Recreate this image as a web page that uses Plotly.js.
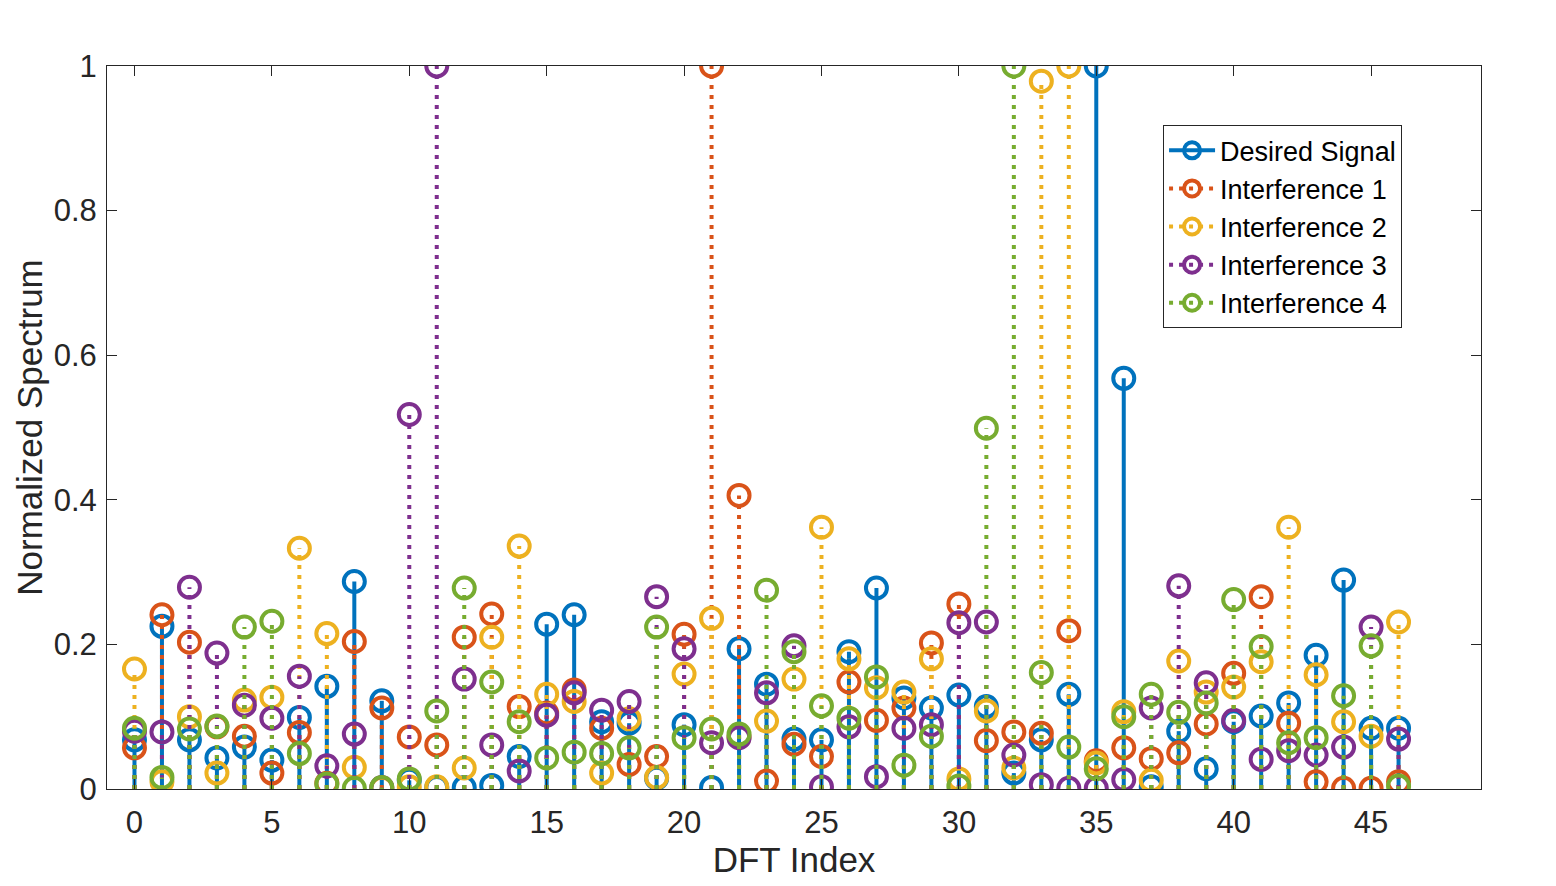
<!DOCTYPE html>
<html>
<head>
<meta charset="utf-8">
<script src="https://cdn.plot.ly/plotly-3.0.1.min.js"></script>
<style>
  html, body { margin: 0; padding: 0; background: #fff; }
  #chart { width: 1556px; height: 886px; }
</style>
</head>
<body>
<div id="chart"></div>
<script>
// DFT bins 0..46
var dftIndex = [];
for (var k = 0; k <= 46; k++) dftIndex.push(k);

var seriesNames = ['Desired Signal', 'Interference 1', 'Interference 2', 'Interference 3', 'Interference 4'];

var desired = [0.068, 0.225, 0.068, 0.043, 0.058, 0.040, 0.099, 0.142, 0.287, 0.122,
               0.012, 0.002, 0.002, 0.005, 0.045, 0.228, 0.241, 0.093, 0.091, 0.015,
               0.089, 0.002, 0.194, 0.145, 0.069, 0.068, 0.190, 0.278, 0.126, 0.112,
               0.130, 0.114, 0.022, 0.068, 0.131, 1.000, 0.568, 0.003, 0.080, 0.028,
               0.093, 0.101, 0.119, 0.185, 0.289, 0.084, 0.084];
var interf1 = [0.057, 0.241, 0.203, 0.086, 0.073, 0.022, 0.078, 0.008, 0.204, 0.112,
               0.072, 0.061, 0.210, 0.242, 0.114, 0.105, 0.137, 0.084, 0.034, 0.045,
               0.214, 1.000, 0.406, 0.011, 0.062, 0.045, 0.148, 0.095, 0.112, 0.202,
               0.256, 0.067, 0.079, 0.077, 0.219, 0.039, 0.057, 0.042, 0.050, 0.090,
               0.160, 0.266, 0.091, 0.010, 0.001, 0.001, 0.010];
var interf2 = [0.166, 0.010, 0.100, 0.022, 0.123, 0.127, 0.333, 0.215, 0.030, 0.001,
               0.003, 0.003, 0.029, 0.210, 0.336, 0.131, 0.121, 0.022, 0.097, 0.016,
               0.159, 0.236, 0.072, 0.094, 0.152, 0.362, 0.180, 0.140, 0.134, 0.180,
               0.014, 0.108, 0.029, 0.979, 1.000, 0.036, 0.107, 0.012, 0.177, 0.134,
               0.141, 0.176, 0.362, 0.158, 0.093, 0.073, 0.231];
var interf3 = [0.080, 0.079, 0.279, 0.188, 0.116, 0.098, 0.156, 0.032, 0.076, 0.002,
               0.518, 1.000, 0.152, 0.061, 0.025, 0.102, 0.133, 0.109, 0.121, 0.266,
               0.194, 0.064, 0.071, 0.133, 0.198, 0.003, 0.086, 0.017, 0.084, 0.089,
               0.230, 0.231, 0.047, 0.006, 0.001, 0.001, 0.013, 0.112, 0.281, 0.147,
               0.095, 0.041, 0.053, 0.047, 0.058, 0.224, 0.069];
var interf4 = [0.084, 0.016, 0.083, 0.087, 0.224, 0.232, 0.049, 0.007, 0.001, 0.002,
               0.014, 0.108, 0.278, 0.148, 0.093, 0.043, 0.051, 0.049, 0.057, 0.224,
               0.071, 0.083, 0.076, 0.275, 0.190, 0.115, 0.098, 0.155, 0.033, 0.073,
               0.004, 0.499, 1.000, 0.161, 0.058, 0.028, 0.100, 0.131, 0.106, 0.119,
               0.262, 0.197, 0.064, 0.071, 0.129, 0.198, 0.004];

var allSeries = [desired, interf1, interf2, interf3, interf4];
var colors = ['#0072BD', '#D95319', '#EDB120', '#7E2F8E', '#77AC30'];
var dashes = ['solid', '4px,6px', '4px,6px', '4px,6px', '4px,6px'];

var traces = [];
allSeries.forEach(function (vals, s) {
  // stems: vertical segment from 0 to value, separated by gaps
  var sx = [], sy = [], mx = [], my = [];
  vals.forEach(function (v, i) {
    sx.push(dftIndex[i], dftIndex[i], null);
    sy.push(0, v, null);
    mx.push(dftIndex[i], null);
    my.push(v, null);
  });
  traces.push({
    x: sx, y: sy, type: 'scatter', mode: 'lines',
    line: { color: colors[s], width: 4, dash: dashes[s] },
    hoverinfo: 'skip', showlegend: false, legendgroup: 'g' + s
  });
  // markers (single points between gaps -> no connecting line, legend shows line + circle)
  traces.push({
    x: mx, y: my, type: 'scatter', mode: 'lines+markers', connectgaps: false,
    name: seriesNames[s], legendgroup: 'g' + s,
    line: { color: colors[s], width: 4, dash: dashes[s] },
    marker: { symbol: 'circle-open', size: 21, color: colors[s], line: { width: 4, color: colors[s] } }
  });
});

var fam = 'Liberation Sans, Arial, sans-serif';
var axisFont = { family: fam, size: 31, color: '#262626' };
var titleFont = { family: fam, size: 35, color: '#262626' };

var layout = {
  width: 1556, height: 886,
  margin: { l: 107, r: 75, t: 66, b: 97 },
  paper_bgcolor: '#ffffff', plot_bgcolor: '#ffffff',
  font: { family: fam, color: '#262626' },
  showlegend: true,
  legend: {
    x: 0.7686, y: 0.918, xanchor: 'left', yanchor: 'top',
    bgcolor: '#ffffff', bordercolor: '#262626', borderwidth: 1,
    font: { family: fam, size: 27, color: '#000000' },
    itemwidth: 46, tracegroupgap: 0, entrywidth: 255
  },
  xaxis: {
    range: [-1, 49], tickmode: 'linear', tick0: 0, dtick: 5,
    showgrid: false, zeroline: false, automargin: false,
    showline: true, mirror: 'ticks', linecolor: '#262626', linewidth: 1,
    ticks: 'inside', ticklen: 10, tickcolor: '#262626',
    tickfont: axisFont, ticklabelstandoff: 6,
    title: { text: 'DFT Index', font: titleFont, standoff: 4 }
  },
  yaxis: {
    range: [0, 1], tickmode: 'linear', tick0: 0, dtick: 0.2,
    showgrid: false, zeroline: false, automargin: false,
    showline: true, mirror: 'ticks', linecolor: '#262626', linewidth: 1,
    ticks: 'inside', ticklen: 10, tickcolor: '#262626',
    tickfont: axisFont, ticklabelstandoff: 3,
    title: { text: 'Normalized Spectrum', font: titleFont, standoff: 0 }
  }
};

Plotly.newPlot('chart', traces, layout, { displayModeBar: false, staticPlot: true });
</script>
</body>
</html>
